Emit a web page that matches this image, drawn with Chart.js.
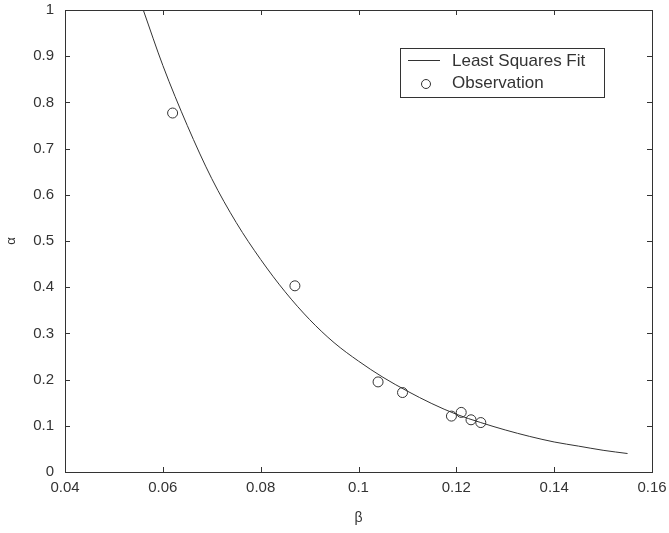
<!DOCTYPE html>
<html>
<head>
<meta charset="utf-8">
<script src="https://cdn.jsdelivr.net/npm/chart.js@4/dist/chart.umd.min.js"></script>
<style>
html,body{margin:0;padding:0;background:#fff;}
#wrap{width:669px;height:533px;}
</style>
</head>
<body>
<div id="wrap"><canvas id="c" width="669" height="533"></canvas></div>
<script>
// Least squares fit curve
const fitBeta  = [0.056,0.06,0.065,0.07,0.075,0.08,0.085,0.09,0.095,0.10,0.105,0.11,0.115,0.12,0.125,0.13,0.135,0.14,0.145,0.15,0.155];
const fitAlpha = [1.0,0.88,0.75,0.635,0.54,0.46,0.39,0.33,0.28,0.24,0.205,0.175,0.148,0.125,0.107,0.091,0.077,0.065,0.056,0.047,0.040];
// Observations
const obsBeta  = [0.062,0.087,0.104,0.109,0.119,0.121,0.123,0.125];
const obsAlpha = [0.777,0.403,0.195,0.172,0.121,0.129,0.113,0.107];
// Tick labels
const xTicks = [0.04,0.06,0.08,0.1,0.12,0.14,0.16];
const yTicks = [0,0.1,0.2,0.3,0.4,0.5,0.6,0.7,0.8,0.9,1];
const seriesNames = ['Least Squares Fit','Observation'];

const INK = '#333';
const FONT = "'Liberation Sans', Arial, sans-serif";

const framePlugin = {
  id: 'frame',
  afterDraw(chart) {
    const {ctx, chartArea: a, scales: {x, y}} = chart;
    ctx.save();
    ctx.strokeStyle = INK;
    ctx.lineWidth = 1;
    ctx.strokeRect(Math.round(a.left)+0.5, Math.round(a.top)+0.5, Math.round(a.right-a.left), Math.round(a.bottom-a.top));
    const L = 5;
    ctx.beginPath();
    xTicks.forEach(v => {
      const px = Math.round(x.getPixelForValue(v)) + 0.5;
      ctx.moveTo(px, a.bottom); ctx.lineTo(px, a.bottom - L);
      ctx.moveTo(px, a.top); ctx.lineTo(px, a.top + L);
    });
    yTicks.forEach(v => {
      const py = Math.round(y.getPixelForValue(v)) + 0.5;
      ctx.moveTo(a.left, py); ctx.lineTo(a.left + L, py);
      ctx.moveTo(a.right, py); ctx.lineTo(a.right - L, py);
    });
    ctx.stroke();

    // legend box
    const bx = 400.5, by = 48.5, bw = 204, bh = 49;
    ctx.fillStyle = '#fff';
    ctx.fillRect(bx, by, bw, bh);
    ctx.strokeRect(bx, by, bw, bh);
    ctx.font = '17px ' + FONT;
    ctx.fillStyle = INK;
    ctx.textBaseline = 'middle';
    ctx.textAlign = 'left';
    ctx.beginPath();
    ctx.moveTo(408, 60.5); ctx.lineTo(440, 60.5);
    ctx.stroke();
    ctx.fillText(seriesNames[0], 452, 61);
    ctx.beginPath();
    ctx.arc(426, 84, 4.5, 0, Math.PI*2);
    ctx.stroke();
    ctx.fillText(seriesNames[1], 452, 83);
    ctx.restore();
  }
};

new Chart(document.getElementById('c'), {
  type: 'scatter',
  data: {
    datasets: [
      {
        label: seriesNames[0],
        data: fitBeta.map((b,i)=>({x:b, y:fitAlpha[i]})),
        showLine: true,
        borderColor: INK,
        borderWidth: 1,
        pointRadius: 0,
        cubicInterpolationMode: 'monotone'
      },
      {
        label: seriesNames[1],
        data: obsBeta.map((b,i)=>({x:b, y:obsAlpha[i]})),
        showLine: false,
        borderColor: INK,
        backgroundColor: 'rgba(0,0,0,0)',
        borderWidth: 1,
        pointRadius: 5,
        pointStyle: 'circle'
      }
    ]
  },
  options: {
    responsive: false,
    animation: false,
    layout: {padding: {top: 10, right: 17, left: 0, bottom: 0}},
    plugins: {legend: {display: false}, tooltip: {enabled: false}},
    scales: {
      x: {
        type: 'linear', min: 0.04, max: 0.16,
        afterBuildTicks: s => { s.ticks = xTicks.map(v => ({value: v})); },
        afterFit: s => { s.height = 61; s.paddingLeft = 0; s.paddingRight = 0; },
        grid: {display: false, drawTicks: false},
        border: {display: false},
        ticks: {color: INK, font: {family: FONT, size: 15}, padding: 7,
                callback: v => String(Math.round(v*100)/100)},
        title: {display: true, text: 'β', color: INK, font: {family: FONT, size: 14}, padding: {top: 0, bottom: 6}}
      },
      y: {
        type: 'linear', min: 0, max: 1,
        afterBuildTicks: s => { s.ticks = yTicks.map(v => ({value: v})); },
        afterFit: s => { s.width = 65; s.paddingTop = 0; s.paddingBottom = 0; },
        grid: {display: false, drawTicks: false},
        border: {display: false},
        ticks: {color: INK, font: {family: FONT, size: 15}, padding: 11,
                callback: v => String(Math.round(v*10)/10)},
        title: {display: true, text: 'α', color: INK, font: {family: FONT, size: 13}, padding: {top: 4, bottom: 0}}
      }
    }
  },
  plugins: [framePlugin]
});
</script>
</body>
</html>
